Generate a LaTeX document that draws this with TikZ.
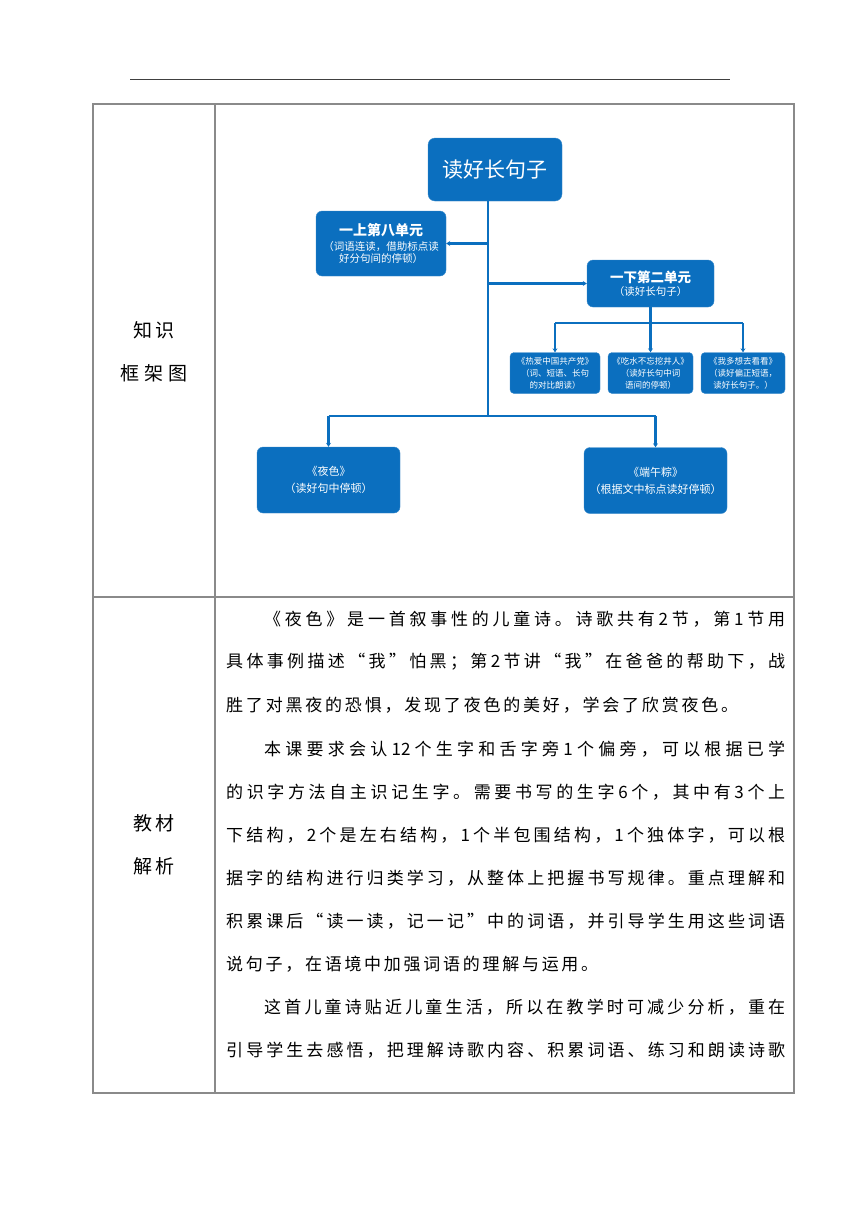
\documentclass[tikz,border=0pt]{standalone}
\usepackage{fontspec}
\setmainfont{Noto Sans CJK SC}
\usetikzlibrary{arrows.meta}
\definecolor{BoxBlue}{HTML}{0B6FBF}
\definecolor{RuleGray}{HTML}{8A8A8A}
\definecolor{HeadGray}{HTML}{404040}
\ExplSyntaxOn
\NewDocumentCommand\spreadline{mm}{\hbox to #1{\tl_map_inline:nn{#2}{##1\hfil}\unskip}}
\ExplSyntaxOff
\tikzset{
  goalbox/.style={
    fill=BoxBlue,draw=BoxBlue!80,rounded corners=7pt,
    minimum width=134pt,minimum height=63pt,
    font=\fontsize{21}{24}\selectfont,text=white,align=center,inner sep=2pt
  },
  unitbox/.style={
    fill=BoxBlue,draw=BoxBlue!80,rounded corners=6pt,
    font=\fontsize{10.5}{12.5}\selectfont,text=white,align=center,inner sep=2pt
  },
  lessonbox/.style={
    fill=BoxBlue,draw=BoxBlue!80,rounded corners=4pt,
    minimum height=41pt,
    font=\fontsize{8.5}{12}\selectfont,text=white,align=center,inner sep=1pt
  },
  textbox/.style={
    fill=BoxBlue,draw=BoxBlue!80,rounded corners=6pt,
    minimum width=143pt,minimum height=66pt,
    font=\fontsize{11}{17}\selectfont,text=white,align=center,inner sep=2pt
  },
  link/.style={draw=BoxBlue,line width=2.6pt},
  linkarrow/.style={link,-{Stealth[length=4pt,width=5pt]}},
  rowlabel/.style={font=\fontsize{19}{43}\selectfont,text=black,align=center,inner sep=0pt},
  bodyline/.style={font=\fontsize{17}{20}\selectfont,text=black,anchor=west,inner sep=0pt},
}

\begin{document}
\begin{tikzpicture}[x=1pt,y=-1pt]
  \useasboundingbox (0,0) rectangle (860,1216);
  \fill[white] (0,0) rectangle (860,1216);
  % page header rule and table
  \draw[line width=1pt, draw=HeadGray] (130,79) -- (730,79);
  \draw[line width=1.2pt, draw=RuleGray] (93,104) rectangle (794,1093);
  \draw[line width=1.2pt, draw=RuleGray] (215,104) -- (215,1093);
  \draw[line width=1.2pt, draw=RuleGray] (93,597) -- (794,597);
  \node[rowlabel] (lab1) at (154,351.5) {\spreadline{42pt}{知识}\\\spreadline{68pt}{框架图}};
  \node[rowlabel] (lab2) at (154,844.5) {\spreadline{42pt}{教材}\\\spreadline{42pt}{解析}};
  % knowledge map
  \node[goalbox] (goal) at (495,169.5) {读好长句子};
  \node[unitbox, minimum width=130pt, minimum height=65pt] (unitA) at (381,243.5)
    {{\fontsize{14}{16}\selectfont\bfseries 一上第八单元}\\[2pt]（词语连读，借助标点读\\好分句间的停顿）};
  \node[unitbox, minimum width=127pt, minimum height=47pt] (unitB) at (650.5,283.5)
    {{\fontsize{13.5}{15}\selectfont\bfseries 一下第二单元}\\（读好长句子）};
  \node[lessonbox, minimum width=90pt] (lessA) at (555,373) {《热爱中国共产党》\\（词、短语、长句\\的对比朗读）};
  \node[lessonbox, minimum width=85pt] (lessB) at (650.5,373) {《吃水不忘挖井人》\\（读好长句中词\\语间的停顿）};
  \node[lessonbox, minimum width=84pt] (lessC) at (743,373) {《我多想去看看》\\（读好偏正短语，\\读好长句子。）};
  \node[textbox] (night) at (328.5,480) {《夜色》\\（读好句中停顿）};
  \node[textbox] (zongzi) at (655.5,480.5) {《端午粽》\\（根据文中标点读好停顿）};
  \coordinate (trunkTop) at (488,201);
  \coordinate (trunkEnd) at (488,416);
  \coordinate (lessBar) at (650.5,323);
  \draw[link] (trunkTop) -- (trunkEnd);
  \draw[linkarrow] (trunkTop |- unitA.east) -- (unitA.east);
  \draw[linkarrow] (trunkTop |- unitB.west) -- (unitB.west);
  \draw[link] (unitB.south) -- (lessBar);
  \draw[link] (lessBar -| lessA.north) -- (lessBar -| lessC.north);
  \draw[linkarrow] (lessBar -| lessA.north) -- (lessA.north);
  \draw[linkarrow] (lessBar) -- (lessB.north);
  \draw[linkarrow] (lessBar -| lessC.north) -- (lessC.north);
  \draw[link] (trunkEnd -| night.north) -- (trunkEnd -| zongzi.north);
  \draw[linkarrow] (trunkEnd -| night.north) -- (night.north);
  \draw[linkarrow] (trunkEnd -| zongzi.north) -- (zongzi.north);
  % analysis text
  \node[bodyline] (t1) at (264,619) {\spreadline{521pt}{《夜色》是一首叙事性的儿童诗。诗歌共有2节，第1节用}};
  \node[bodyline] (t2) at (226,662) {\spreadline{559pt}{具体事例描述“我”怕黑；第2节讲“我”在爸爸的帮助下，战}};
  \node[bodyline] (t3) at (226,705) {\spreadline{512pt}{胜了对黑夜的恐惧，发现了夜色的美好，学会了欣赏夜色。}};
  \node[bodyline] (t4) at (264,749) {\spreadline{521pt}{本课要求会认{12}个生字和舌字旁1个偏旁，可以根据已学}};
  \node[bodyline] (t5) at (226,792) {\spreadline{559pt}{的识字方法自主识记生字。需要书写的生字6个，其中有3个上}};
  \node[bodyline] (t6) at (226,835) {\spreadline{559pt}{下结构，2个是左右结构，1个半包围结构，1个独体字，可以根}};
  \node[bodyline] (t7) at (226,878) {\spreadline{559pt}{据字的结构进行归类学习，从整体上把握书写规律。重点理解和}};
  \node[bodyline] (t8) at (226,921) {\spreadline{559pt}{积累课后“读一读，记一记”中的词语，并引导学生用这些词语}};
  \node[bodyline] (t9) at (226,964) {\spreadline{372pt}{说句子，在语境中加强词语的理解与运用。}};
  \node[bodyline] (t10) at (264,1007) {\spreadline{521pt}{这首儿童诗贴近儿童生活，所以在教学时可减少分析，重在}};
  \node[bodyline] (t11) at (226,1050) {\spreadline{559pt}{引导学生去感悟，把理解诗歌内容、积累词语、练习和朗读诗歌}};
\end{tikzpicture}
\end{document}
